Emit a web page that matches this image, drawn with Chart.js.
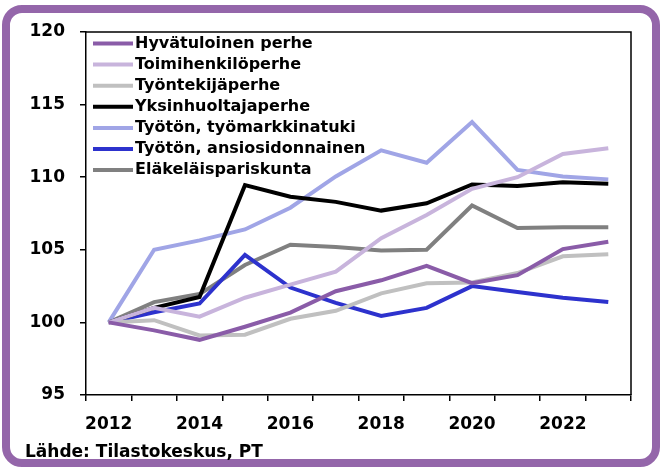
<!DOCTYPE html>
<html>
<head>
<meta charset="utf-8">
<script src="https://cdn.jsdelivr.net/npm/chart.js@4/dist/chart.umd.min.js"></script>
<style>
  body { margin: 0; background: #fff; }
  canvas { display: block; }
</style>
</head>
<body>
<canvas id="incomeChart" width="660" height="468"></canvas>
<script>
const years = ["2012", "2013", "2014", "2015", "2016", "2017", "2018", "2019", "2020", "2021", "2022", "2023"]

const hyvatuloinen = [100, 99.45, 98.8, 99.7, 100.67, 102.15, 102.9, 103.9, 102.7, 103.25, 105.05, 105.55]
const toimihenkilo = [100, 101.0, 100.4, 101.7, 102.6, 103.5, 105.8, 107.4, 109.2, 110.0, 111.6, 112.0]
const tyontekija = [100, 100.15, 99.1, 99.15, 100.25, 100.8, 102.0, 102.7, 102.75, 103.4, 104.55, 104.7]
const yksinhuoltaja = [100, 101.0, 101.75, 109.45, 108.65, 108.3, 107.7, 108.2, 109.5, 109.4, 109.65, 109.55]
const tyomarkkinatuki = [100, 105.0, 105.65, 106.4, 107.9, 110.05, 111.85, 111.0, 113.8, 110.5, 110.05, 109.85]
const ansiosidonnainen = [100, 100.7, 101.3, 104.65, 102.4, 101.35, 100.45, 101.0, 102.5, 102.1, 101.7, 101.4]
const elakelaiset = [100, 101.4, 101.95, 103.95, 105.35, 105.2, 104.95, 105.0, 108.05, 106.5, 106.55, 106.55]

const yTicks = [95, 100, 105, 110, 115, 120]

const font = "DejaVu Sans"
Chart.defaults.font.family = font
Chart.defaults.font.weight = 700
Chart.defaults.font.size = 17
Chart.defaults.color = "#000"

function series(label, data, color) {
    return {
        label: label,
        data: data,
        borderColor: color,
        backgroundColor: color,
        borderWidth: 4,
        pointRadius: 0,
        tension: 0
    }
}

// frame, top/right plot border and the legend inside the plot
const decorations = {
    id: "decorations",
    beforeDraw(chart) {
        const c = chart.ctx
        c.save()
        c.strokeStyle = "#9466aa"
        c.lineWidth = 8
        c.beginPath()
        c.roundRect(6, 9, 650, 454, 16)
        c.stroke()
        c.restore()
    },
    afterDraw(chart) {
        const c = chart.ctx
        const a = chart.chartArea
        c.save()
        c.strokeStyle = "#000"
        c.lineWidth = 1.5
        c.beginPath()
        c.moveTo(a.left, a.top)
        c.lineTo(a.right, a.top)
        c.lineTo(a.right, a.bottom)
        c.stroke()

        c.font = "bold 16px '" + font + "'"
        c.textBaseline = "middle"
        c.fillStyle = "#000"
        chart.data.datasets.forEach((ds, i) => {
            const y = 43.5 + i * 21.1
            c.strokeStyle = ds.borderColor
            c.lineWidth = 4
            c.beginPath()
            c.moveTo(93, y)
            c.lineTo(133, y)
            c.stroke()
            c.fillText(ds.label, 135, y)
        })
        c.restore()
    }
}

const tickFont = { family: font, size: 17, weight: 700 }

new Chart(document.getElementById("incomeChart"), {
    type: "line",
    data: {
        labels: years,
        datasets: [
            series("Hyvätuloinen perhe", hyvatuloinen, "#8a5ca8"),
            series("Toimihenkilöperhe", toimihenkilo, "#c8b4dc"),
            series("Työntekijäperhe", tyontekija, "#c0c0c0"),
            series("Yksinhuoltajaperhe", yksinhuoltaja, "#000000"),
            series("Työtön, työmarkkinatuki", tyomarkkinatuki, "#a0a5e6"),
            series("Työtön, ansiosidonnainen", ansiosidonnainen, "#2d32cd"),
            series("Eläkeläispariskunta", elakelaiset, "#808080")
        ]
    },
    options: {
        responsive: false,
        animation: false,
        layout: { padding: { top: 32, right: 29, bottom: 5, left: 25 } },
        plugins: {
            legend: { display: false },
            tooltip: { enabled: false },
            title: {
                display: true,
                text: "Lähde: Tilastokeskus, PT",
                position: "bottom",
                align: "start",
                color: "#000",
                padding: { top: 0, bottom: 0 },
                font: tickFont
            }
        },
        scales: {
            x: {
                offset: true,
                afterFit(scale) { scale.height = 47.6 },
                grid: { offset: true, drawOnChartArea: false, drawTicks: true, tickLength: 6, color: "#000", lineWidth: 1.5 },
                border: { color: "#000", width: 1.5 },
                ticks: {
                    autoSkip: false,
                    maxRotation: 0,
                    padding: 13,
                    color: "#000",
                    font: tickFont,
                    callback(value, index) {
                        return index % 2 === 0 ? this.getLabelForValue(value) : ""
                    }
                }
            },
            y: {
                min: yTicks[0],
                max: yTicks[yTicks.length - 1],
                afterFit(scale) { scale.width = 61 },
                afterBuildTicks(scale) { scale.ticks = yTicks.map(v => ({ value: v })) },
                grid: { drawOnChartArea: false, drawTicks: true, tickLength: 6, color: "#000", lineWidth: 1.5 },
                border: { color: "#000", width: 1.5 },
                ticks: {
                    padding: 15,
                    color: "#000",
                    font: tickFont
                }
            }
        }
    },
    plugins: [decorations]
})
</script>
</body>
</html>
